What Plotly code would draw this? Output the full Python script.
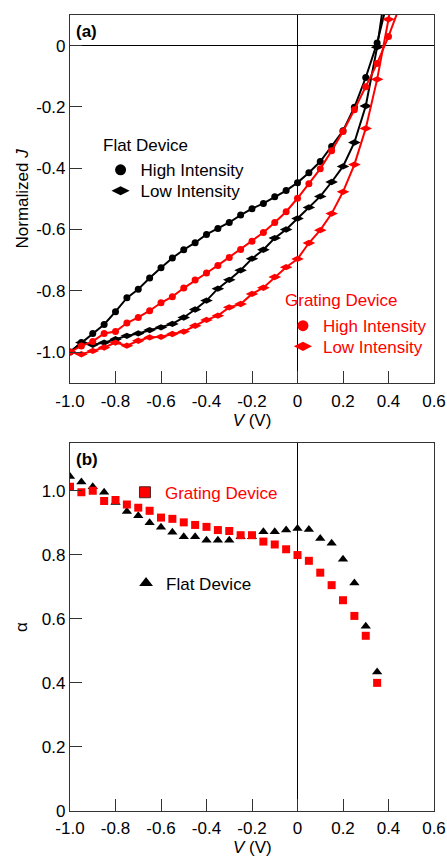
import plotly.graph_objects as go

# ---------------- data ----------------
V_top = [-1.0, -0.95, -0.90, -0.85, -0.80, -0.75, -0.70, -0.65, -0.60, -0.55,
         -0.50, -0.45, -0.40, -0.35, -0.30, -0.25, -0.20, -0.15, -0.10, -0.05,
         0.0, 0.05, 0.10, 0.15, 0.20, 0.25, 0.30, 0.35, 0.40, 0.45]

flat_high = [-1.0, -0.969, -0.939, -0.910, -0.868, -0.823, -0.795, -0.758, -0.725, -0.693,
             -0.666, -0.643, -0.616, -0.597, -0.577, -0.553, -0.532, -0.515, -0.493, -0.473,
             -0.447, -0.415, -0.378, -0.329, -0.278, -0.201, -0.104, 0.009, 0.16, None]

flat_low = [-1.0, -0.969, -0.976, -0.969, -0.958, -0.947, -0.939, -0.928, -0.919, -0.908,
            -0.887, -0.861, -0.832, -0.793, -0.764, -0.733, -0.695, -0.666, -0.628, -0.600,
            -0.564, -0.528, -0.492, -0.445, -0.394, -0.316, -0.197, -0.005, 0.25, None]

grating_high = [-1.0, -0.980, -0.965, -0.939, -0.933, -0.905, -0.887, -0.865, -0.839, -0.819,
                -0.791, -0.765, -0.742, -0.717, -0.691, -0.665, -0.638, -0.610, -0.577, -0.542,
                -0.498, -0.451, -0.402, -0.343, -0.280, -0.209, -0.134, -0.058, 0.030, 0.13]

grating_low = [-1.0, -1.007, -0.996, -0.985, -0.969, -0.979, -0.963, -0.952, -0.950, -0.941,
               -0.933, -0.914, -0.895, -0.881, -0.854, -0.843, -0.810, -0.790, -0.755, -0.723,
               -0.696, -0.644, -0.602, -0.548, -0.477, -0.388, -0.270, -0.110, 0.086, 0.33]

V_bot = [-1.0, -0.95, -0.90, -0.85, -0.80, -0.75, -0.70, -0.65, -0.60, -0.55,
         -0.50, -0.45, -0.40, -0.35, -0.30, -0.25, -0.20, -0.15, -0.10, -0.05,
         0.0, 0.05, 0.10, 0.15, 0.20, 0.25, 0.30, 0.35]

alpha_flat = [1.044, 1.027, 1.012, 0.995, 0.963, 0.935, 0.922, 0.900, 0.886, 0.870,
              0.856, 0.856, 0.845, 0.845, 0.845, 0.856, 0.856, 0.872, 0.872, 0.877,
              0.882, 0.879, 0.851, 0.836, 0.786, 0.712, 0.577, 0.434]

alpha_grating = [1.012, 0.995, 1.000, 0.968, 0.971, 0.957, 0.947, 0.937, 0.916, 0.912,
                 0.901, 0.893, 0.887, 0.877, 0.874, 0.861, 0.861, 0.841, 0.832, 0.817,
                 0.799, 0.781, 0.744, 0.705, 0.658, 0.609, 0.547, 0.400]

x_ticks = [-1.0, -0.8, -0.6, -0.4, -0.2, 0.0, 0.2, 0.4, 0.6]
x_ticktext = ["-1.0", "-0.8", "-0.6", "-0.4", "-0.2", "0", "0.2", "0.4", "0.6"]
ya_ticks = [0.0, -0.2, -0.4, -0.6, -0.8, -1.0]
ya_ticktext = ["0", "-0.2", "-0.4", "-0.6", "-0.8", "-1.0"]
yb_ticks = [0.0, 0.2, 0.4, 0.6, 0.8, 1.0]
yb_ticktext = ["0", "0.2", "0.4", "0.6", "0.8", "1.0"]

# ---------------- style ----------------
FONT = "Liberation Sans, Arial, Helvetica, sans-serif"
FS = 17
RED = "#ff0000"
BLACK = "#000000"
AXC = "#333333"

fig = go.Figure()

def curve(y, color, symbol, size):
    return go.Scatter(x=V_top, y=y, mode="lines+markers",
                      line=dict(color=color, width=2),
                      marker=dict(symbol=symbol, size=size, color=color),
                      showlegend=False, xaxis="x", yaxis="y", hoverinfo="skip")

fig.add_trace(curve(flat_high, BLACK, "circle", 7))
fig.add_trace(curve(flat_low, BLACK, "diamond-wide", 9))
fig.add_trace(curve(grating_high, RED, "circle", 7))
fig.add_trace(curve(grating_low, RED, "diamond-wide", 9))

fig.add_trace(go.Scatter(x=V_bot, y=alpha_flat, mode="markers",
                         marker=dict(symbol="triangle-up", size=9, color=BLACK),
                         showlegend=False, xaxis="x2", yaxis="y2"))
fig.add_trace(go.Scatter(x=V_bot, y=alpha_grating, mode="markers",
                         marker=dict(symbol="square", size=8, color=RED),
                         showlegend=False, xaxis="x2", yaxis="y2"))

# legend entries (marker-only, no data) - one legend per entry for exact spacing
def leg(name, color, symbol, size, legend, line=None):
    m = dict(symbol=symbol, size=size, color=color)
    if line:
        m["line"] = line
    return go.Scatter(x=[None], y=[None], mode="markers", name=name, marker=m,
                      legend=legend, showlegend=True, xaxis="x", yaxis="y")

fig.add_trace(leg("High Intensity", BLACK, "circle", 11, "legend"))
fig.add_trace(leg("Low Intensity", BLACK, "diamond-wide", 13, "legend2"))
fig.add_trace(leg("High Intensity", RED, "circle", 11, "legend3"))
fig.add_trace(leg("Low Intensity", RED, "diamond-wide", 13, "legend4"))
fig.add_trace(leg("Grating Device", RED, "square", 11, "legend5", dict(color="#552222", width=1)))
fig.add_trace(leg("Flat Device", BLACK, "triangle-up", 12, "legend6"))

axis_common = dict(showline=True, mirror=True, linecolor=AXC, linewidth=1.3,
                   ticks="inside", ticklen=12, tickwidth=1.3, tickcolor=AXC,
                   showgrid=False, zeroline=True, zerolinecolor=BLACK, zerolinewidth=1.3,
                   automargin=False,
                   tickfont=dict(size=FS, color=BLACK, family=FONT))

def legend_cfg(x, y, color):
    return dict(x=x, y=y, xanchor="left", yanchor="top", bgcolor="rgba(0,0,0,0)",
                font=dict(size=FS, color=color, family=FONT), itemsizing="trace",
                tracegroupgap=0, itemclick=False, itemdoubleclick=False)

def text_ann(text, x, y, color, xref="paper", yref="paper", xanchor="left"):
    return dict(text=text, xref=xref, yref=yref, x=x, y=y,
                xanchor=xanchor, yanchor="middle", showarrow=False,
                font=dict(size=FS, color=color, family=FONT))

fig.update_layout(
    width=447, height=857,
    margin=dict(l=70, r=13, t=15, b=46, autoexpand=False),
    paper_bgcolor="white", plot_bgcolor="white",
    font=dict(family=FONT, size=FS, color=BLACK),
    xaxis=dict(axis_common, domain=[0, 1], range=[-1.0, 0.6], anchor="y",
               tickvals=x_ticks, ticktext=x_ticktext, ticklabelstandoff=3,
               title=dict(text="<i>V</i> (V)", font=dict(size=FS), standoff=3)),
    yaxis=dict(axis_common, domain=[0.538, 1.0], range=[-1.1, 0.1], anchor="x",
               tickvals=ya_ticks, ticktext=ya_ticktext,
               title=dict(text="Normalized <i>J</i>", font=dict(size=FS), standoff=3)),
    xaxis2=dict(axis_common, domain=[0, 1], range=[-1.0, 0.6], anchor="y2",
                tickvals=x_ticks, ticktext=x_ticktext, ticklabelstandoff=1),
    yaxis2=dict(axis_common, domain=[0.0, 0.462], range=[0, 1.148], anchor="x2",
                tickvals=yb_ticks, ticktext=yb_ticktext,
                title=dict(text="α", font=dict(size=FS), standoff=9)),
    legend=legend_cfg(0.084, 0.8276, BLACK),
    legend2=legend_cfg(0.084, 0.8013, BLACK),
    legend3=legend_cfg(0.585, 0.6317, RED),
    legend4=legend_cfg(0.585, 0.6058, RED),
    legend5=legend_cfg(0.151, 0.4225, RED),
    legend6=legend_cfg(0.154, 0.3085, BLACK),
    annotations=[
        text_ann("<b>(a)</b>", 0.011, 0.955, BLACK, "x domain", "y domain"),
        text_ann("<b>(b)</b>", 0.011, 0.955, BLACK, "x2 domain", "y2 domain"),
        text_ann("Flat Device", 0.085, 0.8358, BLACK),
        text_ann("Grating Device", 0.586, 0.6411, RED),
        text_ann("<i>V</i> (V)", 0.5, -0.0455, BLACK, xanchor="center"),
    ],
)

fig.write_html("out.html")
